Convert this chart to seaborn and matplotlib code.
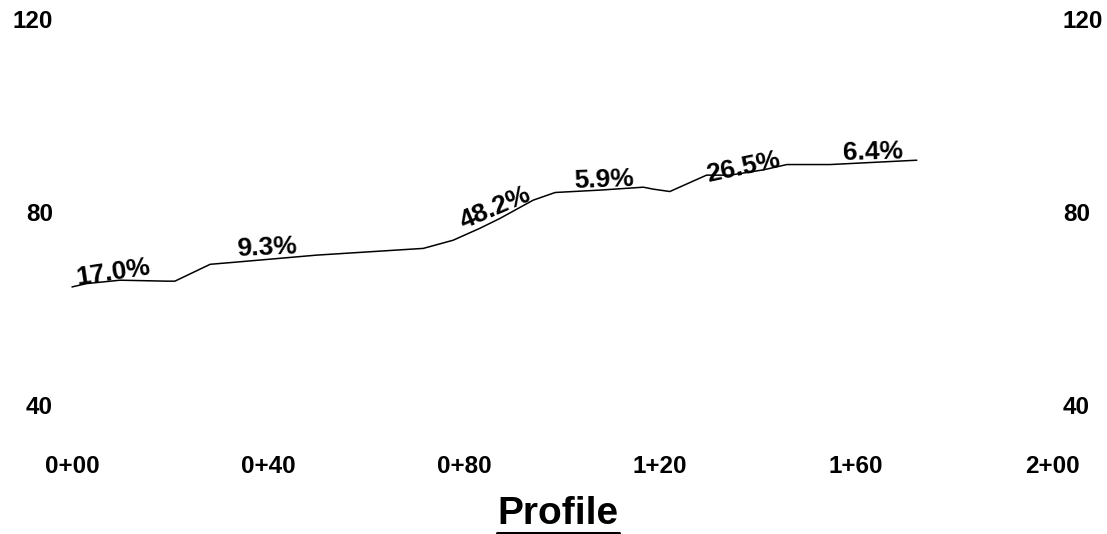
import matplotlib
matplotlib.use("Agg")
import matplotlib.pyplot as plt
from matplotlib.lines import Line2D
import seaborn as sns
import pandas as pd

# Ground profile: station (ft along alignment) and elevation
station = [0, 3, 9.8, 19.3, 21, 28.2, 32.9, 49.9, 71.7, 77.8, 83.3, 87.3, 94.1,
           98.6, 107.8, 116.6, 118.6, 122, 129.5, 134.3, 141.1, 145.9, 154.7, 172.4]
elevation = [64.5, 65.2, 65.9, 65.7, 65.7, 69.2, 69.6, 71.1, 72.5, 74.2, 76.7, 78.7, 82.5,
             84.1, 84.6, 85.2, 84.8, 84.3, 87.7, 87.7, 88.8, 89.9, 89.9, 90.8]

# Grade labels along the profile
grade_text = ["17.0%", "9.3%", "48.2%", "5.9%", "26.5%", "6.4%"]
grade_station = [8.4, 39.8, 86.3, 108.6, 136.9, 163.5]
grade_elev = [67.4, 72.6, 81.0, 86.6, 89.3, 92.4]
grade_angle = [8.5, 2.5, 23, 2, 12, 1.5]

x_ticks = [0, 40, 80, 120, 160, 200]
x_labels = ["0+00", "0+40", "0+80", "1+20", "1+60", "2+00"]
y_ticks = [40, 80, 120]

sns.set_theme(style="white")
plt.rcParams["font.family"] = ["Liberation Sans", "DejaVu Sans"]
plt.rcParams["font.weight"] = "bold"
for key in ("text.color", "xtick.color", "ytick.color", "axes.labelcolor"):
    plt.rcParams[key] = "black"

fig = plt.figure(figsize=(11.07, 5.34), dpi=100)
W, H = 1107, 534
left, right, bottom, top = 60, 1056, 129, 514.5
ax = fig.add_axes([left / W, bottom / H, (right - left) / W, (top - bottom) / H])

df = pd.DataFrame({"station": station, "elevation": elevation})
sns.lineplot(data=df, x="station", y="elevation", ax=ax, color="black",
             linewidth=1.1, estimator=None, sort=False)

for t, s, e, a in zip(grade_text, grade_station, grade_elev, grade_angle):
    ax.text(s, e, t, rotation=a, rotation_mode="anchor", ha="center", va="center",
            fontsize=19, fontweight="bold", color="black")

ax.set_xlim(-12 / 4.9, 200 + 4 / 4.9)
ax.set_ylim(40, 120)
ax.set_xticks(x_ticks)
ax.set_xticklabels(x_labels)
ax.set_yticks(y_ticks)
for sp in ax.spines.values():
    sp.set_visible(False)
ax.tick_params(axis="both", length=0, labelsize=17.5, labelcolor="black")
ax.tick_params(axis="y", labelright=True, pad=5)
ax.tick_params(axis="x", pad=36)
for lbl in ax.get_xticklabels() + ax.get_yticklabels():
    lbl.set_fontweight("bold")
ax.set_ylabel("")
ax.set_xlabel("Profile", fontsize=28, fontweight="bold", color="black", labelpad=13)

# Underline the axis title
fig.canvas.draw()
bb = ax.xaxis.label.get_window_extent()
fig.add_artist(Line2D([bb.x0 / W, bb.x1 / W], [(bb.y0 - 1) / H, (bb.y0 - 1) / H],
                      transform=fig.transFigure, color="black", linewidth=2.2))

fig.savefig("out.png", dpi=100)
